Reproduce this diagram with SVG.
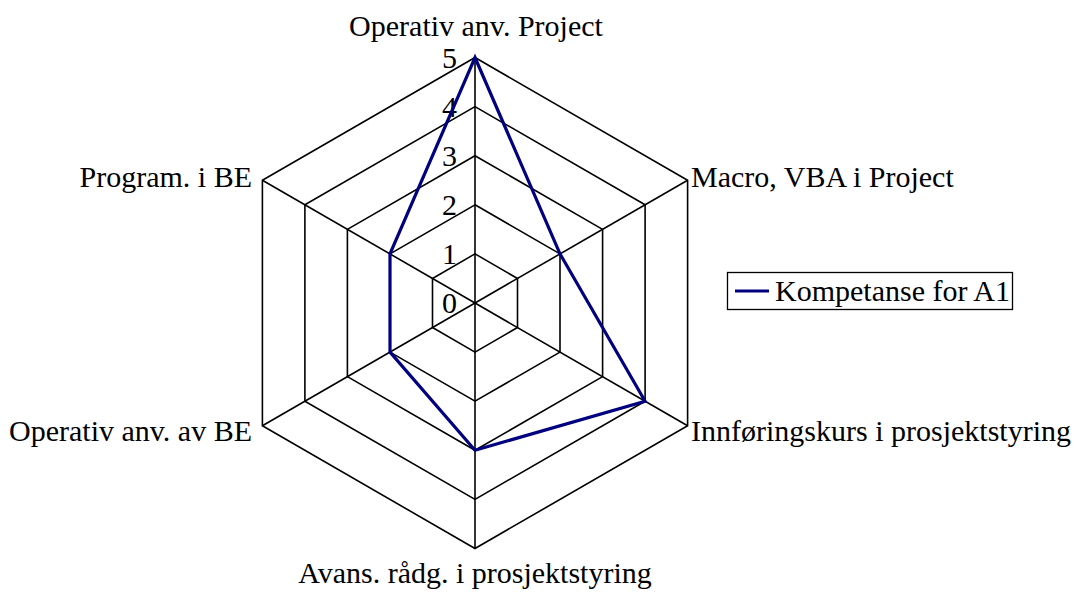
<svg xmlns="http://www.w3.org/2000/svg" width="1076" height="595" viewBox="0 0 1076 595">
  <style>
    .grid { fill: none; stroke: #000; stroke-width: 1.6; }
    .series { fill: none; stroke: #000080; stroke-width: 3.2; stroke-linejoin: miter; }
    text { font-family: "Liberation Serif", "Times New Roman", serif; font-size: 30px; fill: #000; }
  </style>
  <rect width="1076" height="595" fill="#fff"/>

  <!-- hexagonal grid: centre (475,303), one unit = 49.1px -->
  <g id="grid">
    <polygon class="grid" points="475,253.9 517.5,278.45 517.5,327.55 475,352.1 432.5,327.55 432.5,278.45"/>
    <polygon class="grid" points="475,204.8 560.0,253.9 560.0,352.1 475,401.2 390.0,352.1 390.0,253.9"/>
    <polygon class="grid" points="475,155.7 602.6,229.35 602.6,376.65 475,450.3 347.4,376.65 347.4,229.35"/>
    <polygon class="grid" points="475,106.6 645.1,204.8 645.1,401.2 475,499.4 304.9,401.2 304.9,204.8"/>
    <polygon class="grid" points="475,57.5 687.6,180.25 687.6,425.75 475,548.5 262.4,425.75 262.4,180.25"/>
    <line class="grid" x1="475" y1="303" x2="475" y2="57.5"/>
    <line class="grid" x1="475" y1="303" x2="687.6" y2="180.25"/>
    <line class="grid" x1="475" y1="303" x2="687.6" y2="425.75"/>
    <line class="grid" x1="475" y1="303" x2="475" y2="548.5"/>
    <line class="grid" x1="475" y1="303" x2="262.4" y2="425.75"/>
    <line class="grid" x1="475" y1="303" x2="262.4" y2="180.25"/>
  </g>

  <!-- value scale -->
  <g id="scale">
    <text x="457" y="313" text-anchor="end">0</text>
    <text x="457" y="263.9" text-anchor="end">1</text>
    <text x="457" y="214.8" text-anchor="end">2</text>
    <text x="457" y="165.7" text-anchor="end">3</text>
    <text x="457" y="116.6" text-anchor="end">4</text>
    <text x="457" y="67.5" text-anchor="end">5</text>
  </g>

  <!-- category labels -->
  <g id="axis-operativ-project"><text x="476" y="35.5" text-anchor="middle">Operativ anv. Project</text></g>
  <g id="axis-macro"><text x="691" y="187">Macro, VBA i Project</text></g>
  <g id="axis-innforing"><text x="691" y="441">Innføringskurs i prosjektstyring</text></g>
  <g id="axis-avans"><text x="475" y="583" text-anchor="middle">Avans. rådg. i prosjektstyring</text></g>
  <g id="axis-operativ-be"><text x="252" y="441" text-anchor="end">Operativ anv. av BE</text></g>
  <g id="axis-program"><text x="252" y="187" text-anchor="end">Program. i BE</text></g>

  <!-- data series -->
  <g id="connectors">
    <polygon class="series" points="475,57.5 560.0,253.9 645.1,401.2 475,450.3 390.0,352.1 390.0,253.9"/>
  </g>

  <!-- legend -->
  <g id="legend">
    <rect x="727.5" y="272.5" width="285" height="37" fill="#fff" stroke="#000" stroke-width="1.3"/>
    <line x1="735" y1="291" x2="769" y2="291" stroke="#000080" stroke-width="3.2"/>
    <text x="775" y="301">Kompetanse for A1</text>
  </g>
</svg>
